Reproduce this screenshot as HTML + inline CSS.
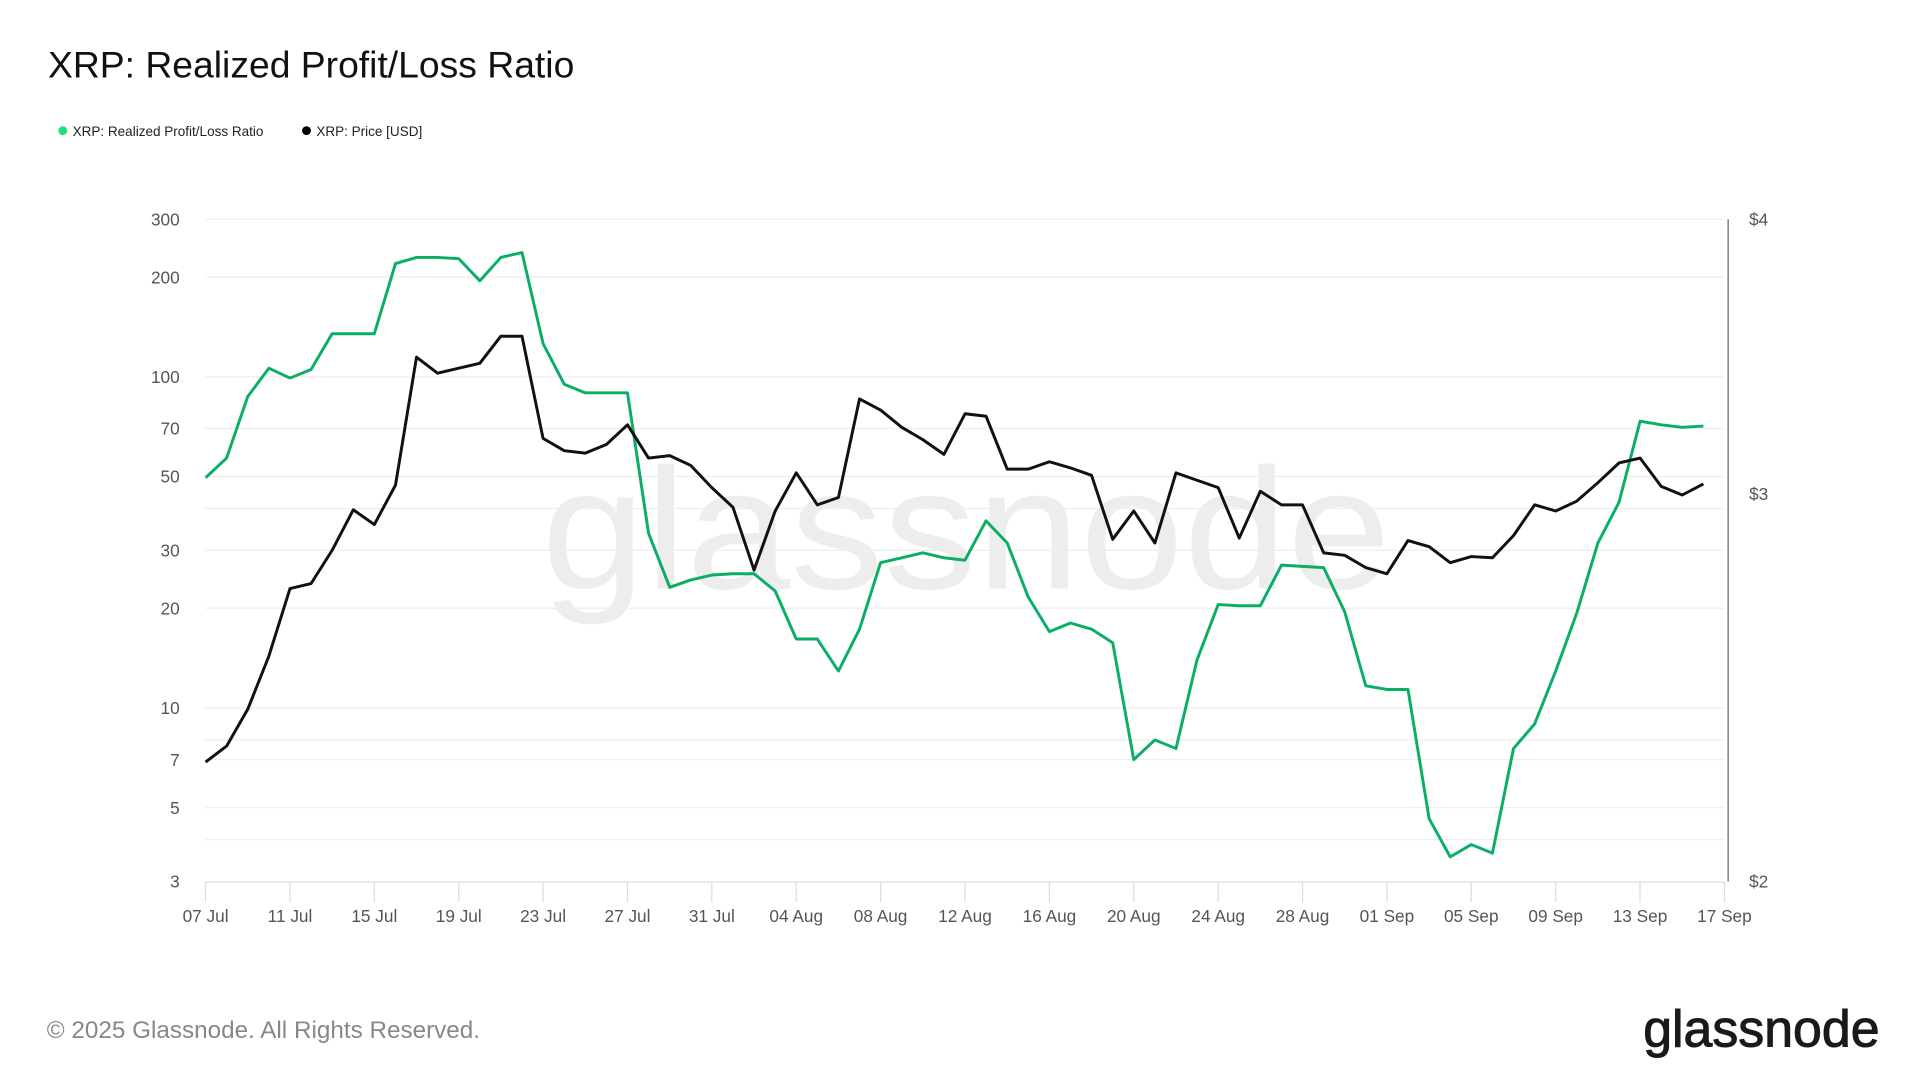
<!DOCTYPE html>
<html><head><meta charset="utf-8"><style>
html,body{margin:0;padding:0;background:#fff;}
svg{display:block;}
text{font-family:"Liberation Sans",sans-serif;}
</style></head><body>
<svg width="1930" height="1086" viewBox="0 0 1568 882" xmlns="http://www.w3.org/2000/svg">
<rect width="1568" height="882" fill="#fff"/>
<text x="39" y="63" font-size="30.3" fill="#111">XRP: Realized Profit/Loss Ratio</text>
<circle cx="51" cy="106" r="3.6" fill="#1de27a"/>
<text x="59" y="110.5" font-size="11" fill="#222">XRP: Realized Profit/Loss Ratio</text>
<circle cx="249" cy="106" r="3.6" fill="#000"/>
<text x="257" y="110.5" font-size="11" fill="#222">XRP: Price [USD]</text>
<text x="785" y="478" font-size="140" fill="#000" fill-opacity="0.07" text-anchor="middle" textLength="690" lengthAdjust="spacingAndGlyphs">glassnode</text>
<g stroke="#eeeeee" stroke-width="1">
<line x1="167" x2="1401" y1="178" y2="178"/><line x1="167" x2="1401" y1="225" y2="225"/>
<line x1="167" x2="1401" y1="306" y2="306"/><line x1="167" x2="1401" y1="348" y2="348"/>
<line x1="167" x2="1401" y1="387" y2="387"/><line x1="167" x2="1401" y1="413" y2="413"/>
<line x1="167" x2="1401" y1="447" y2="447"/><line x1="167" x2="1401" y1="494" y2="494"/>
<line x1="167" x2="1401" y1="575" y2="575"/><line x1="167" x2="1401" y1="601" y2="601"/>
<line x1="167" x2="1401" y1="617" y2="617"/><line x1="167" x2="1401" y1="656" y2="656"/>
<line x1="167" x2="1401" y1="682" y2="682"/>
</g>
<line x1="167" x2="1401" y1="716.5" y2="716.5" stroke="#ddd"/>
<g stroke="#ddd"><line x1="167" x2="167" y1="716" y2="733"/><line x1="235.6" x2="235.6" y1="716" y2="733"/><line x1="304.1" x2="304.1" y1="716" y2="733"/><line x1="372.7" x2="372.7" y1="716" y2="733"/><line x1="441.2" x2="441.2" y1="716" y2="733"/><line x1="509.8" x2="509.8" y1="716" y2="733"/><line x1="578.3" x2="578.3" y1="716" y2="733"/><line x1="646.9" x2="646.9" y1="716" y2="733"/><line x1="715.4" x2="715.4" y1="716" y2="733"/><line x1="784" x2="784" y1="716" y2="733"/><line x1="852.6" x2="852.6" y1="716" y2="733"/><line x1="921.1" x2="921.1" y1="716" y2="733"/><line x1="989.7" x2="989.7" y1="716" y2="733"/><line x1="1058.2" x2="1058.2" y1="716" y2="733"/><line x1="1126.8" x2="1126.8" y1="716" y2="733"/><line x1="1195.3" x2="1195.3" y1="716" y2="733"/><line x1="1263.9" x2="1263.9" y1="716" y2="733"/><line x1="1332.4" x2="1332.4" y1="716" y2="733"/><line x1="1401" x2="1401" y1="716" y2="733"/></g>
<line x1="1404" x2="1404" y1="178" y2="716" stroke="#666"/>
<g font-size="14" fill="#555" text-anchor="end">
<text x="146" y="183">300</text><text x="146" y="230">200</text><text x="146" y="311">100</text><text x="146" y="353">70</text><text x="146" y="392">50</text><text x="146" y="452">30</text><text x="146" y="499">20</text><text x="146" y="580">10</text><text x="146" y="622">7</text><text x="146" y="661">5</text><text x="146" y="721">3</text>
</g>
<g font-size="14" fill="#555"><text x="1421" y="183">$4</text><text x="1421" y="406">$3</text><text x="1421" y="721">$2</text></g>
<g font-size="14" fill="#555" text-anchor="middle">
<text x="167" y="749">07 Jul</text><text x="235.6" y="749">11 Jul</text><text x="304.1" y="749">15 Jul</text><text x="372.7" y="749">19 Jul</text><text x="441.2" y="749">23 Jul</text><text x="509.8" y="749">27 Jul</text><text x="578.3" y="749">31 Jul</text><text x="646.9" y="749">04 Aug</text><text x="715.4" y="749">08 Aug</text><text x="784" y="749">12 Aug</text><text x="852.6" y="749">16 Aug</text><text x="921.1" y="749">20 Aug</text><text x="989.7" y="749">24 Aug</text><text x="1058.2" y="749">28 Aug</text><text x="1126.8" y="749">01 Sep</text><text x="1195.3" y="749">05 Sep</text><text x="1263.9" y="749">09 Sep</text><text x="1332.4" y="749">13 Sep</text><text x="1401" y="749">17 Sep</text>
</g>
<polyline id="g" fill="none" stroke="#0aae64" stroke-width="2.4" stroke-linejoin="round" points=""/>
<polyline id="b" fill="none" stroke="#111" stroke-width="2.4" stroke-linejoin="round" points=""/>
<text x="38" y="843" font-size="19.5" fill="#888" textLength="352" lengthAdjust="spacingAndGlyphs">© 2025 Glassnode. All Rights Reserved.</text>
<text x="1335" y="850" font-size="42" fill="#1a1a1a" textLength="192" lengthAdjust="spacingAndGlyphs" stroke="#1a1a1a" stroke-width="0.8">glassnode</text>
</svg>
<script>
var G=[388,372,322,299,307,300,271,271,271,214,209,209,210,228,209,205,279,312,319,319,319,433,477,471,467,466,466,480,519,519,545,511,457,453,449,453,455,423,441,485,513,506,511,522,617,601,608,536,491,492,492,459,460,461,497,557,560,560,665,696,686,693,608,588,545,498,441,408,342,345,347,346];
var B=[619,606,576,533,478,474,447,414,426,394,290,303,299,295,273,273,356,366,368,361,345,372,370,378,396,412,463,415,384,410,404,324,333,347,357,369,336,338,381,381,375,380,386,438,415,441,384,390,396,437,399,410,410,449,451,461,466,439,444,457,452,453,435,410,415,407,392,376,372,395,402,393];
function p(a){return a.map(function(v,i){return (167+i*17.139).toFixed(1)+","+v}).join(" ");}
document.getElementById("g").setAttribute("points",p(G));
document.getElementById("b").setAttribute("points",p(B));
</script>
</body></html>
